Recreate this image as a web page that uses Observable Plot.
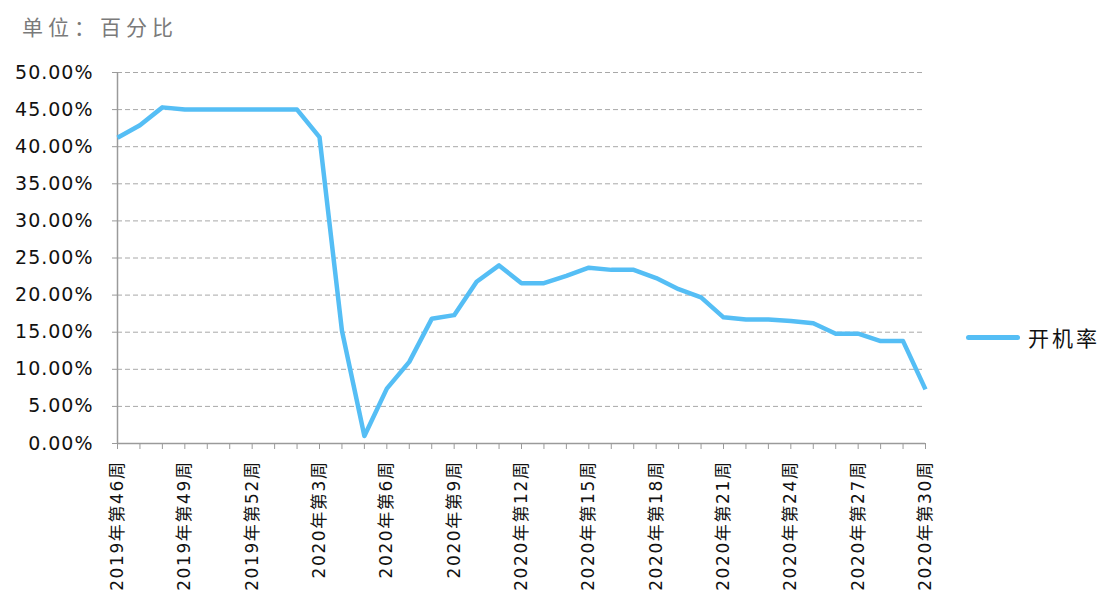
<!DOCTYPE html>
<html>
<head>
<meta charset="utf-8">
<script src="https://cdn.jsdelivr.net/npm/d3@7"></script>
<script src="https://cdn.jsdelivr.net/npm/@observablehq/plot@0.6"></script>
<style>
  html, body { margin: 0; padding: 0; background: #fff; }
  #wrap { position: relative; width: 1104px; height: 604px; overflow: hidden; }
  #title { position: absolute; left: 22px; top: 11px; font-family: "Noto Sans CJK SC", sans-serif; font-size: 21px; letter-spacing: 5px; color: #7a7a7a; }
  #legend { position: absolute; left: 966px; top: 322px; display: flex; align-items: center; font-family: "Noto Sans CJK SC", sans-serif; font-size: 21px; letter-spacing: 3px; color: #111; }
  #legend .sw { width: 54px; height: 5px; border-radius: 3px; background: #55BEF5; margin-right: 8px; }
  .xlab text { letter-spacing: 1.6px; }
  .ylab text { letter-spacing: 1px; }
</style>
</head>
<body>
<div id="wrap">
  <div id="chart"></div>
  <div id="title">单位：百分比</div>
  <div id="legend"><span class="sw"></span><span>开机率</span></div>
</div>
<script>
const weeks = [
  "2019年第46周","2019年第47周","2019年第48周","2019年第49周","2019年第50周","2019年第51周","2019年第52周",
  "2020年第1周","2020年第2周","2020年第3周","2020年第4周","2020年第5周","2020年第6周","2020年第7周",
  "2020年第8周","2020年第9周","2020年第10周","2020年第11周","2020年第12周","2020年第13周","2020年第14周",
  "2020年第15周","2020年第16周","2020年第17周","2020年第18周","2020年第19周","2020年第20周","2020年第21周",
  "2020年第22周","2020年第23周","2020年第24周","2020年第25周","2020年第26周","2020年第27周","2020年第28周",
  "2020年第29周","2020年第30周"
];
const rate = [
  41.2, 42.9, 45.3, 45.0, 45.0, 45.0, 45.0,
  45.0, 45.0, 41.3, 15.2, 1.0, 7.4, 11.0,
  16.8, 17.3, 21.8, 24.0, 21.6, 21.6, 22.6,
  23.7, 23.4, 23.4, 22.3, 20.8, 19.7, 17.0,
  16.7, 16.7, 16.5, 16.2, 14.8, 14.8, 13.8,
  13.8, 7.3
];
const labeledWeeks = weeks.filter((d, i) => i % 3 === 0);
const yTicks = [0, 5, 10, 15, 20, 25, 30, 35, 40, 45, 50];

const data = weeks.map((w, i) => ({week: w, value: rate[i]}));
const axisColor = "#9a9a9a";

const chart = Plot.plot({
  width: 1104,
  height: 604,
  marginLeft: 117,
  marginRight: 179,
  marginTop: 72,
  marginBottom: 161,
  style: {fontFamily: "'DejaVu Sans', 'Noto Sans CJK SC', sans-serif", fontSize: "17px", color: "#111", background: "#fff"},
  x: {type: "point", domain: weeks, range: [117, 925], padding: 0, round: false},
  y: {domain: [0, 50], range: [443, 72]},
  marks: [
    Plot.gridY(yTicks.filter(d => d > 0), {stroke: "#a8a8a8", strokeOpacity: 1, strokeDasharray: "5,3"}),
    Plot.axisY(yTicks, {tickSize: 5, tickPadding: 19, stroke: axisColor, fill: "#111", fontSize: 19, label: null, className: "ylab", tickFormat: d => d.toFixed(2) + "%"}),
    Plot.axisX(weeks, {tickSize: 6, tickFormat: () => "", stroke: axisColor, label: null}),
    Plot.axisX(labeledWeeks, {tickSize: 0, tickPadding: 17, tickRotate: -90, fill: "#111", fontSize: 17, label: null, className: "xlab"}),
    Plot.ruleY([0], {stroke: axisColor, strokeWidth: 1.5}),
    Plot.ruleX([weeks[0]], {stroke: axisColor, strokeWidth: 1.5}),
    Plot.line(data, {x: "week", y: "value", stroke: "#55BEF5", strokeWidth: 4.5, strokeLinejoin: "round", strokeLinecap: "butt"})
  ]
});
document.getElementById("chart").appendChild(chart);
</script>
</body>
</html>
